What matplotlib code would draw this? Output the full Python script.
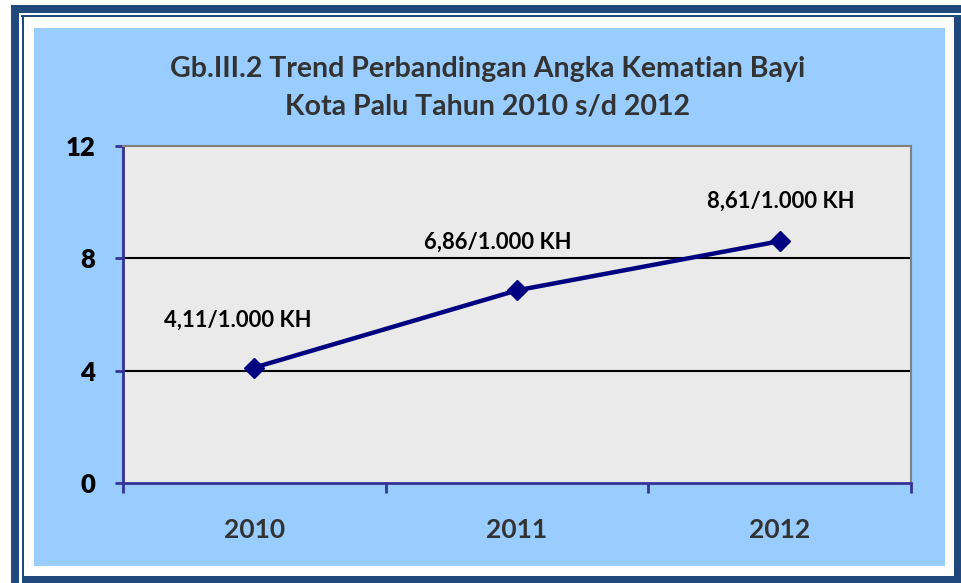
import matplotlib
matplotlib.use("Agg")
import matplotlib.pyplot as plt
from matplotlib.patches import Rectangle

years = ["2010", "2011", "2012"]
values = [4.11, 6.86, 8.61]
labels = ["4,11/1.000 KH", "6,86/1.000 KH", "8,61/1.000 KH"]
yticks = [0, 4, 8, 12]
title1 = "Gb.III.2 Trend Perbandingan Angka Kematian Bayi"
title2 = "Kota Palu Tahun 2010 s/d 2012"

W, H = 961, 583
fig = plt.figure(figsize=(W / 100, H / 100), dpi=100)
fig.patch.set_facecolor("white")

DARK = "#1F497D"
LIGHT = "#99CCFF"
FONT = "Lato"


def px_rect(x0, y0, x1, y1, color):
    fig.patches.append(Rectangle((x0 / W, 1 - y1 / H), (x1 - x0) / W, (y1 - y0) / H,
                                 transform=fig.transFigure, facecolor=color,
                                 edgecolor="none", zorder=-5))


# frame
px_rect(11, 5, 19, 583, DARK)
px_rect(11, 5, 961, 13, DARK)
px_rect(21, 15, 961, 17, DARK)
px_rect(22, 15, 24, 583, DARK)
px_rect(954, 15, 961, 583, DARK)
px_rect(22, 576, 961, 583, DARK)
px_rect(34, 28, 945, 566, LIGHT)

# axes
L, R, T, B = 123, 911, 146, 483
ax = fig.add_axes([L / W, 1 - B / H, (R - L) / W, (B - T) / H])
ax.set_zorder(2)
ax.set_facecolor("#EAEAEA")
ax.set_xlim(0, 3)
ax.set_ylim(0, 12)
xs = [i + 0.5 for i in range(len(years))]

for y in [4, 8]:
    ax.axhline(y, color="black", lw=1.5, zorder=1)

ax.plot(xs, values, color="#000080", lw=3.2, marker="D", markersize=10,
        markerfacecolor="#000080", markeredgecolor="#000080", zorder=3,
        clip_on=False)

offsets = [(-12, 34), (-14, 35), (1, 29)]
for x, v, lab, off in zip(xs, values, labels, offsets):
    ax.annotate(lab, (x, v), xytext=off, textcoords="offset points",
                ha="center", va="center", fontsize=15.8, fontweight="bold",
                family=FONT, color="black", zorder=4)

for s in ["top", "right"]:
    ax.spines[s].set_color("#808080")
    ax.spines[s].set_linewidth(1.5)
for s in ["left", "bottom"]:
    ax.spines[s].set_color("#333399")
    ax.spines[s].set_linewidth(2)

ax.set_yticks(yticks)
ax.set_yticklabels([str(t) for t in yticks], fontsize=18.5, fontweight="heavy",
                   family=FONT, color="black")
ax.tick_params(axis="y", length=6, width=2, color="#333399", pad=14)
ax.set_xticks([0, 1, 2, 3])
ax.set_xticklabels([])
ax.tick_params(axis="x", length=7, width=2, color="#333399")
for x, yr in zip(xs, years):
    ax.text(x, -0.105, yr, transform=ax.get_xaxis_transform(), ha="center",
            va="top", fontsize=19, fontweight="bold", family=FONT,
            color="#333333")

fig.text(488 / W, 1 - 77 / H, title1, ha="center", va="baseline", fontsize=20.5,
         fontweight="bold", family=FONT, color="#333333")
fig.text(488 / W, 1 - 114 / H, title2, ha="center", va="baseline", fontsize=20.5,
         fontweight="bold", family=FONT, color="#333333")

fig.savefig("out.png", dpi=100, facecolor=fig.get_facecolor())
